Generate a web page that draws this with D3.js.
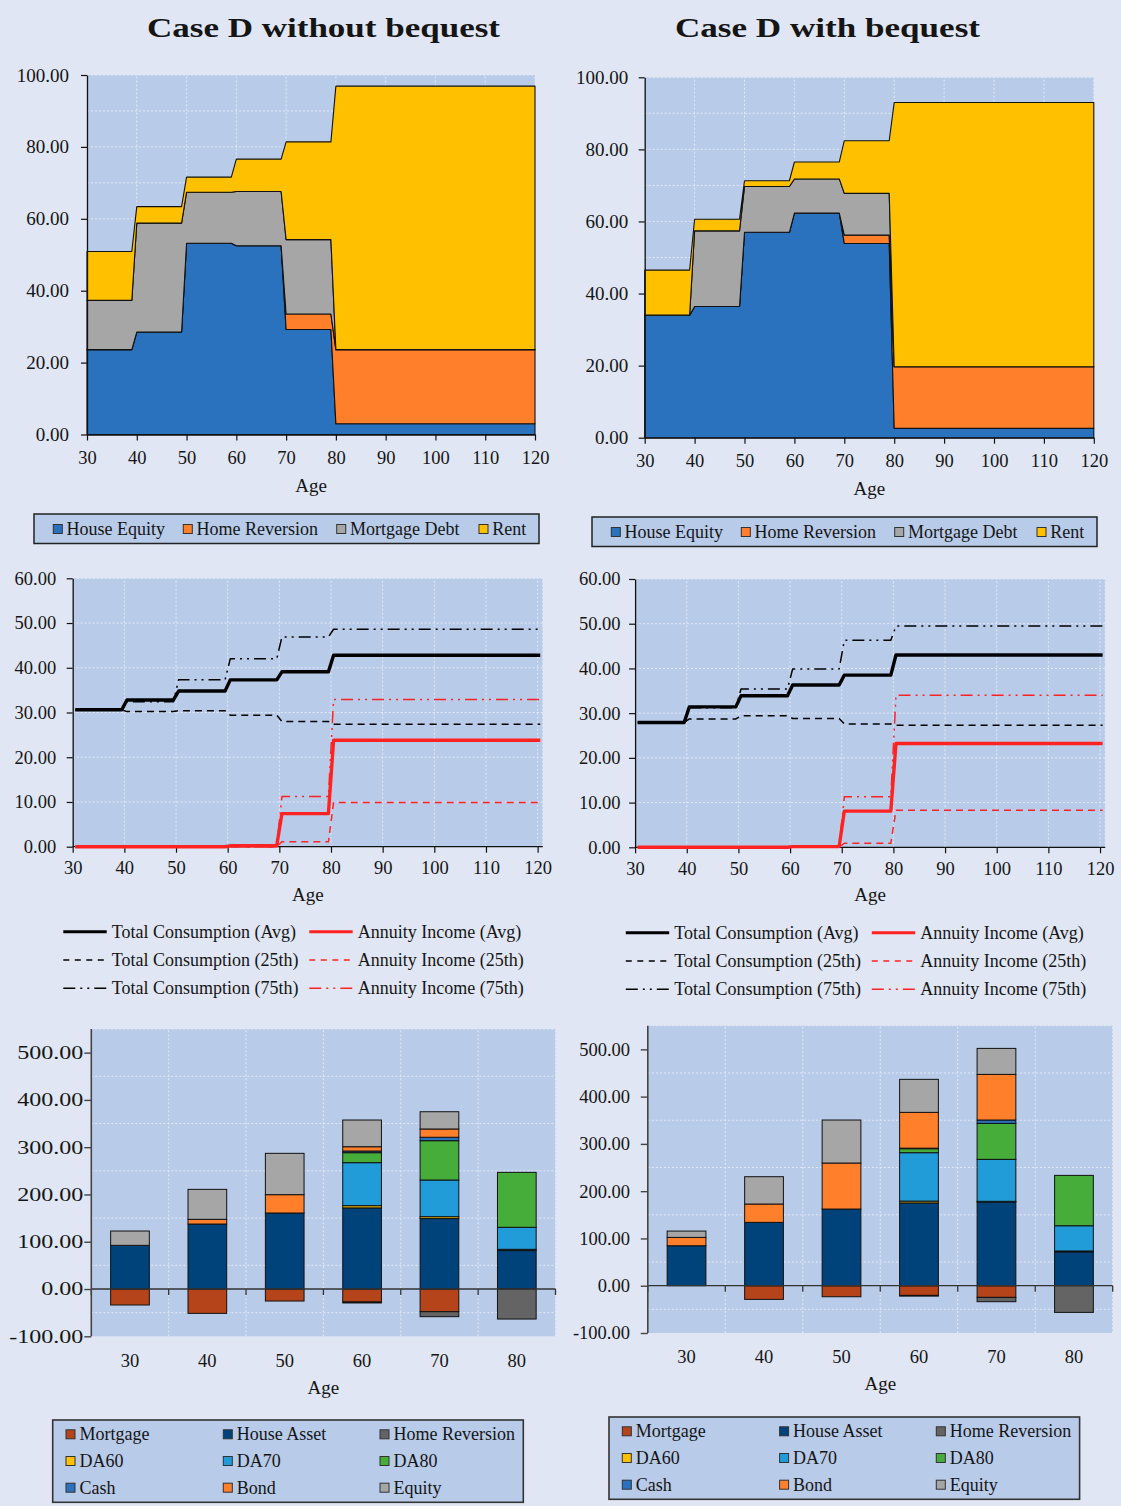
<!DOCTYPE html>
<html>
<head>
<meta charset="utf-8">
<script src="https://cdn.jsdelivr.net/npm/d3@7"></script>
<style>
  html, body { margin: 0; padding: 0; background: #E0E6F3; }
  svg { display: block; }
  text { font-family: "Liberation Serif", "Times New Roman", serif; fill: #151515; }
</style>
</head>
<body>
<svg id="fig" width="1121" height="1506"></svg>
<script>
// ---------------------------------------------------------------
// Data: each value holds for the decade starting at that age
// (the last one, 80, runs through to age 120).
// ---------------------------------------------------------------
const decadeStarts = [30, 40, 50, 60, 70, 80];
const lastAge = 120;

// Housing composition (% of wealth), without bequest
const houseEquityNB   = [23.6, 28.5, 53.2, 52.5, 29.2, 3.0];
const homeReversionNB = [0, 0, 0, 0, 4.3, 20.6];
const mortgageDebtNB  = [13.7, 30.3, 14.2, 15.1, 20.7, 0];
const rentNB          = [13.6, 4.6, 4.2, 9.0, 27.2, 73.3];

// Housing composition, with bequest
const houseEquityWB   = [34.0, 36.4, 57.0, 62.3, 53.9, 2.6];
const homeReversionWB = [0, 0, 0, 0, 2.3, 17.1];
const mortgageDebtWB  = [0, 21.0, 12.7, 9.5, 11.6, 0];
const rentWB          = [12.5, 3.2, 1.6, 4.7, 14.6, 73.3];

// Consumption and annuity income, without bequest
const consAvgNB = [30.6, 32.8, 34.8, 37.3, 39.1, 42.8];
const cons25NB  = [30.6, 30.2, 30.4, 29.4, 28.0, 27.4];
const cons75NB  = [30.6, 32.4, 37.3, 42.0, 46.9, 48.6];
const annAvgNB  = [0, 0, 0, 0.2, 7.4, 23.8];
const ann25NB   = [0, 0, 0, 0, 1.1, 9.9];
const ann75NB   = [0, 0, 0, 0, 11.2, 32.9];

// Consumption and annuity income, with bequest
const consAvgWB = [27.9, 31.4, 33.9, 36.3, 38.5, 43.0];
const cons25WB  = [27.9, 28.7, 29.4, 28.8, 27.6, 27.3];
const cons75WB  = [27.9, 31.2, 35.4, 39.9, 46.3, 49.5];
const annAvgWB  = [0, 0, 0, 0.15, 8.1, 23.2];
const ann25WB   = [0, 0, 0, 0, 0.9, 8.3];
const ann75WB   = [0, 0, 0, 0, 11.3, 34.0];

// Portfolio holdings by age
const barAges = ["30", "40", "50", "60", "70", "80"];
const mortgageNB      = [-33.8, -51.5, -25.4, -27.5, -48.0, 0];
const houseAssetNB    = [92.4, 137.5, 160.8, 171.6, 149.0, 81.4];
const homeRevAssetNB  = [0, 0, 0, -2.0, -10.5, -63.5];
const da60NB          = [0, 0, 0, 4.7, 4.0, 2.6];
const da70NB          = [0, 0, 0, 91.0, 77.6, 46.5];
const da80NB          = [0, 0, 0, 21.1, 83.2, 116.3];
const cashNB          = [0, 0, 0, 3.5, 7.2, 0];
const bondNB          = [0, 9.9, 38.8, 9.1, 17.5, 0];
const equityNB        = [30.3, 63.4, 87.4, 56.5, 36.5, 0];

const mortgageWB      = [0, -28.9, -23.3, -20.5, -24.7, 0];
const houseAssetWB    = [84.6, 134.0, 162.2, 175.2, 177.0, 71.5];
const homeRevAssetWB  = [0, 0, 0, -1.5, -9.1, -56.4];
const da60WB          = [0, 0, 0, 3.8, 1.5, 2.0];
const da70WB          = [0, 0, 0, 102.4, 88.8, 53.4];
const da80WB          = [0, 0, 0, 8.4, 76.1, 106.5];
const cashWB          = [0, 0, 0, 1.2, 7.1, 0];
const bondWB          = [17.6, 38.8, 97.3, 75.7, 96.5, 0];
const equityWB        = [13.4, 57.8, 91.0, 69.8, 55.0, 0];

// Tick values
const housingTicks = [0, 20, 40, 60, 80, 100];
const consumptionTicks = [0, 10, 20, 30, 40, 50, 60];
const ageTicks = [30, 40, 50, 60, 70, 80, 90, 100, 110, 120];
const holdingTicks = [-100, 0, 100, 200, 300, 400, 500];

// ---------------------------------------------------------------
// Styling
// ---------------------------------------------------------------
const SERIF = '"Liberation Serif","Times New Roman",serif';
const PAGE_BG = "#E0E6F3";
const PLOT_BG = "#B8CBE9";
const GRID = "#E4EAF6";
const RED = "#FF2222";

const housingKeys = ["houseEquity", "homeReversion", "mortgageDebt", "rent"];
const housingNames = ["House Equity", "Home Reversion", "Mortgage Debt", "Rent"];
const housingColors = ["#2A72BE", "#FF7F2A", "#A6A6A6", "#FFC000"];

const assetKeys = ["mortgage", "houseAsset", "homeReversion", "da60", "da70", "da80", "cash", "bond", "equity"];
const assetNames = ["Mortgage", "House Asset", "Home Reversion", "DA60", "DA70", "DA80", "Cash", "Bond", "Equity"];
const assetColors = ["#B5441A", "#00427A", "#646464", "#FFC000", "#229CD8", "#46AD3B", "#2A72BE", "#FF7F2A", "#A6A6A6"];

const lineStyles = {
  avg: { width: 3.4, dash: null },
  p25: { width: 1.5, dash: "7,5" },
  p75: { width: 1.5, dash: "12,5,2,5,2,5" }
};

const svg = d3.select("#fig");
svg.append("rect").attr("width", 1121).attr("height", 1506).attr("fill", PAGE_BG);

const fmt2 = d => d.toFixed(2);
const decadeIndex = a => Math.min(decadeStarts.length - 1, Math.floor((a - decadeStarts[0]) / 10));
const ages = d3.range(decadeStarts[0], lastAge + 1);

function styleAxis(sel, fontSize) {
  sel.attr("font-family", SERIF).attr("font-size", fontSize);
  sel.select(".domain").attr("stroke", "#111").attr("stroke-width", 1.3);
  sel.selectAll(".tick line").attr("stroke", "#111").attr("stroke-width", 1.2);
  sel.selectAll(".tick text")
    .attr("fill", "#151515")
    .attr("font-family", SERIF)
    .style("font-family", SERIF)
    .style("font-size", fontSize + "px");
}

function gridLines(g, xs, ys, x0, x1, y0, y1) {
  g.selectAll(null).data(ys).join("line")
    .attr("x1", x0).attr("x2", x1).attr("y1", d => d).attr("y2", d => d)
    .attr("stroke", GRID).attr("stroke-width", 1).attr("stroke-dasharray", "2,2");
  g.selectAll(null).data(xs).join("line")
    .attr("x1", d => d).attr("x2", d => d).attr("y1", y0).attr("y2", y1)
    .attr("stroke", GRID).attr("stroke-width", 1).attr("stroke-dasharray", "2,2");
}

function axisTitle(x, y, label) {
  svg.append("text").attr("x", x).attr("y", y).attr("text-anchor", "middle")
    .style("font-size", "19px").text(label);
}

// ---------------------------------------------------------------
// Stacked area charts: housing composition
// ---------------------------------------------------------------
function drawHousing(p, series) {
  const x = d3.scaleLinear().domain([decadeStarts[0], lastAge]).range([p.x0, p.x1]);
  const y = d3.scaleLinear().domain([0, 100]).range([p.y0, p.y1]);
  const g = svg.append("g");
  g.append("rect").attr("x", p.x0).attr("y", p.y1).attr("width", p.x1 - p.x0).attr("height", p.y0 - p.y1).attr("fill", PLOT_BG);
  gridLines(g, d3.range(40, 121, 10).map(x), d3.range(10, 101, 10).map(y), p.x0, p.x1, p.y0, p.y1);

  const rows = ages.map(a => {
    const r = { age: a };
    housingKeys.forEach((k, j) => { r[k] = series[j][decadeIndex(a)]; });
    return r;
  });
  const stacked = d3.stack().keys(housingKeys)(rows);
  const area = d3.area().x(d => x(d.data.age)).y0(d => y(d[0])).y1(d => y(d[1]));
  g.selectAll(null).data(stacked).join("path")
    .attr("d", area)
    .attr("fill", (d, i) => housingColors[i])
    .attr("stroke", "#111").attr("stroke-width", 1.1).attr("stroke-linejoin", "round");

  const ay = g.append("g").attr("transform", `translate(${p.x0},0)`)
    .call(d3.axisLeft(y).tickValues(housingTicks).tickFormat(fmt2).tickSize(6).tickSizeOuter(0).tickPadding(p.yPad));
  styleAxis(ay, 19);
  const ax = g.append("g").attr("transform", `translate(0,${p.y0})`)
    .call(d3.axisBottom(x).tickValues(ageTicks).tickFormat(d3.format("d")).tickSize(6).tickSizeOuter(0).tickPadding(10));
  styleAxis(ax, 18.5);
  axisTitle((p.x0 + p.x1) / 2, p.y0 + 57, "Age");

  // legend
  const L = p.legend;
  const lg = svg.append("g").attr("transform", `translate(${L.dx},${L.dy})`);
  lg.append("rect").attr("x", 34).attr("y", 514).attr("width", 505).attr("height", 29.5)
    .attr("fill", PLOT_BG).attr("stroke", "#222").attr("stroke-width", 1.5);
  const items = lg.selectAll(null).data(housingNames).join("g")
    .attr("transform", (d, i) => `translate(${L.xs[i]},529)`);
  items.append("rect").attr("x", 0).attr("y", -4.5).attr("width", 9).attr("height", 9)
    .attr("fill", (d, i) => housingColors[i]).attr("stroke", "#333").attr("stroke-width", 1);
  items.append("text").attr("x", 13.3).attr("y", 6).style("font-size", "18px").text(d => d);
}

// ---------------------------------------------------------------
// Line charts: consumption and annuity income
// ---------------------------------------------------------------
function drawConsumption(p, s) {
  const x = d3.scaleLinear().domain([decadeStarts[0], lastAge + 1]).range([p.x0, p.x1]);
  const y = d3.scaleLinear().domain([0, 60]).range([p.y0, p.y1]);
  const g = svg.append("g");
  g.append("rect").attr("x", p.x0).attr("y", p.y1).attr("width", p.x1 - p.x0).attr("height", p.y0 - p.y1).attr("fill", PLOT_BG);
  gridLines(g, d3.range(40, 121, 10).map(x).concat([p.x1]), d3.range(10, 61, 10).map(y), p.x0, p.x1, p.y0, p.y1);

  const line = d3.line().x(d => x(d.age + 0.5)).y(d => y(d.v));
  const seriesDefs = [
    { vals: s.cons25, color: "#000", style: "p25" },
    { vals: s.cons75, color: "#000", style: "p75" },
    { vals: s.consAvg, color: "#000", style: "avg" },
    { vals: s.ann25, color: RED, style: "p25" },
    { vals: s.ann75, color: RED, style: "p75" },
    { vals: s.annAvg, color: RED, style: "avg" }
  ];

  const ay = g.append("g").attr("transform", `translate(${p.x0},0)`)
    .call(d3.axisLeft(y).tickValues(consumptionTicks).tickFormat(fmt2).tickSize(6).tickSizeOuter(0).tickPadding(p.yPad));
  styleAxis(ay, 18.5);
  const ax = g.append("g").attr("transform", `translate(0,${p.y0})`)
    .call(d3.axisBottom(x).tickValues(ageTicks).tickFormat(d3.format("d")).tickSize(6).tickSizeOuter(0).tickPadding(8.5));
  styleAxis(ax, 18.5);
  ax.select(".domain").attr("d", `M${p.x0},0H${p.x1}`);

  seriesDefs.forEach(sd => {
    const pts = ages.map(a => ({ age: a, v: sd.vals[decadeIndex(a)] }));
    const st = lineStyles[sd.style];
    g.append("path").attr("d", line(pts)).attr("fill", "none")
      .attr("stroke", sd.color).attr("stroke-width", st.width)
      .attr("stroke-dasharray", st.dash).attr("stroke-linejoin", "round");
  });
  axisTitle((p.x0 + p.x1) / 2, p.y0 + 54, "Age");

  // legend
  const rows = [
    [["Total Consumption (Avg)", "#000", "avg"], ["Annuity Income (Avg)", RED, "avg"]],
    [["Total Consumption (25th)", "#000", "p25"], ["Annuity Income (25th)", RED, "p25"]],
    [["Total Consumption (75th)", "#000", "p75"], ["Annuity Income (75th)", RED, "p75"]]
  ];
  const rowY = [931.7, 960, 988.3];
  const colX = [63.3, 309.3];
  const lg = svg.append("g").attr("transform", `translate(${p.legend.dx},${p.legend.dy})`);
  rows.forEach((r, i) => r.forEach((it, j) => {
    const st = lineStyles[it[2]];
    lg.append("line").attr("x1", colX[j]).attr("x2", colX[j] + 43.4)
      .attr("y1", rowY[i]).attr("y2", rowY[i])
      .attr("stroke", it[1]).attr("stroke-width", it[2] === "avg" ? 3 : 1.6)
      .attr("stroke-dasharray", it[2] === "p25" ? "6,5.5" : st.dash);
    lg.append("text").attr("x", colX[j] + 48.4).attr("y", rowY[i] + 6)
      .style("font-size", "18px").text(it[0]);
  }));
}

// ---------------------------------------------------------------
// Stacked bar charts: portfolio holdings
// ---------------------------------------------------------------
function drawHoldings(p, series) {
  const x = d3.scaleBand().domain(barAges).range([p.x0, p.x1]).paddingInner(0.5).paddingOuter(0.25);
  const y = d3.scaleLinear().domain([-100, 550]).range([p.yBottom, p.yTop]);
  const g = svg.append("g");
  const step = x.step();
  const bounds = d3.range(barAges.length + 1).map(i => p.x0 + i * step);
  g.append("rect").attr("x", p.x0).attr("y", y(550)).attr("width", p.x1 - p.x0).attr("height", y(-100) - y(550)).attr("fill", PLOT_BG);
  gridLines(g, bounds.slice(1), [-50, 50, 150, 250, 350, 450, 550].map(y), p.x0, p.x1, y(-100), y(550));

  const rows = barAges.map((a, i) => {
    const r = { age: a };
    assetKeys.forEach((k, j) => { r[k] = series[j][i]; });
    return r;
  });
  const stacked = d3.stack().keys(assetKeys).offset(d3.stackOffsetDiverging)(rows);
  stacked.forEach((layer, j) => {
    g.selectAll(null).data(layer.filter(d => d[1] !== d[0])).join("rect")
      .attr("x", d => x(d.data.age))
      .attr("width", x.bandwidth())
      .attr("y", d => y(Math.max(d[0], d[1])))
      .attr("height", d => Math.abs(y(d[0]) - y(d[1])))
      .attr("fill", assetColors[j])
      .attr("stroke", "#111").attr("stroke-width", 1);
  });

  // zero line with category ticks
  g.append("line").attr("x1", p.x0).attr("x2", p.x1).attr("y1", y(0)).attr("y2", y(0))
    .attr("stroke", "#333").attr("stroke-width", 1.3);
  g.selectAll(null).data(bounds).join("line")
    .attr("x1", d => d).attr("x2", d => d).attr("y1", y(0)).attr("y2", y(0) + 6)
    .attr("stroke", "#333").attr("stroke-width", 1.3);

  const ay = g.append("g").attr("transform", `translate(${p.x0},0)`)
    .call(d3.axisLeft(y).tickValues(holdingTicks).tickFormat(fmt2).tickSize(7).tickSizeOuter(0).tickPadding(p.yPad));
  styleAxis(ay, 18.5);
  ay.select(".domain").attr("d", `M0,${y(550)}V${y(-100)}`).attr("stroke", "#444").attr("stroke-width", 1.6);
  ay.selectAll(".tick line").attr("stroke", "#444").attr("stroke-width", 1.4);
  if (p.stretch) {
    ay.selectAll(".tick text").each(function () {
      const w = this.getComputedTextLength();
      d3.select(this).attr("textLength", w * p.stretch).attr("lengthAdjust", "spacingAndGlyphs");
    });
  }

  g.selectAll(null).data(barAges).join("text")
    .attr("x", d => x(d) + x.bandwidth() / 2).attr("y", p.labelY)
    .attr("text-anchor", "middle").style("font-size", "18.5px").text(d => d);
  axisTitle((p.x0 + p.x1) / 2, p.labelY + 27, "Age");

  // legend
  const L = p.legend;
  const lg = svg.append("g").attr("transform", `translate(${L.dx},${L.dy})`);
  lg.append("rect").attr("x", 52.7).attr("y", 1420).attr("width", 470.6).attr("height", 82.3)
    .attr("fill", PLOT_BG).attr("stroke", "#333").attr("stroke-width", 1.6);
  const colX = [66, 223.3, 380];
  const rowY = [1434.3, 1461, 1487.7];
  const items = lg.selectAll(null).data(assetNames).join("g")
    .attr("transform", (d, i) => `translate(${colX[i % 3]},${rowY[Math.floor(i / 3)]})`);
  items.append("rect").attr("x", 0).attr("y", -4.5).attr("width", 9).attr("height", 9)
    .attr("fill", (d, i) => assetColors[i]).attr("stroke", "#333").attr("stroke-width", 1);
  items.append("text").attr("x", 13.5).attr("y", 6).style("font-size", "18px").text(d => d);
}

// ---------------------------------------------------------------
// Titles
// ---------------------------------------------------------------
svg.append("text").attr("x", 323.5).attr("y", 37).attr("text-anchor", "middle")
  .style("font-size", "28px").style("font-weight", "bold")
  .attr("textLength", 353).attr("lengthAdjust", "spacingAndGlyphs")
  .text("Case D without bequest");
svg.append("text").attr("x", 827.5).attr("y", 37).attr("text-anchor", "middle")
  .style("font-size", "28px").style("font-weight", "bold")
  .attr("textLength", 305).attr("lengthAdjust", "spacingAndGlyphs")
  .text("Case D with bequest");

// ---------------------------------------------------------------
// Panels
// ---------------------------------------------------------------
drawHousing({ x0: 87, x1: 535, y0: 434.5, y1: 75, yPad: 12,
  legend: { dx: 0, dy: 0, xs: [53.3, 183.3, 336.7, 479] } },
  [houseEquityNB, homeReversionNB, mortgageDebtNB, rentNB]);
drawHousing({ x0: 644.7, x1: 1093.8, y0: 437.7, y1: 77.3, yPad: 10.5,
  legend: { dx: 558, dy: 3, xs: [53.3, 183.3, 336.7, 479] } },
  [houseEquityWB, homeReversionWB, mortgageDebtWB, rentWB]);

drawConsumption({ x0: 72.7, x1: 542.8, y0: 846.7, y1: 578.3, yPad: 10.5, legend: { dx: 0, dy: 0 } },
  { consAvg: consAvgNB, cons25: cons25NB, cons75: cons75NB, annAvg: annAvgNB, ann25: ann25NB, ann75: ann75NB });
drawConsumption({ x0: 635.1, x1: 1105.2, y0: 847.3, y1: 579, yPad: 8.5, legend: { dx: 562.5, dy: 1 } },
  { consAvg: consAvgWB, cons25: cons25WB, cons75: cons75WB, annAvg: annAvgWB, ann25: ann25WB, ann75: ann75WB });

drawHoldings({ x0: 91.3, x1: 555.5, yBottom: 1336.3, yTop: 1029, yPad: 1, stretch: 1.3, labelY: 1366.5,
  legend: { dx: 0, dy: 0 } },
  [mortgageNB, houseAssetNB, homeRevAssetNB, da60NB, da70NB, da80NB, cashNB, bondNB, equityNB]);
drawHoldings({ x0: 647.8, x1: 1112.7, yBottom: 1333, yTop: 1025.7, yPad: 10.8, stretch: 0, labelY: 1363,
  legend: { dx: 556.3, dy: -3 } },
  [mortgageWB, houseAssetWB, homeRevAssetWB, da60WB, da70WB, da80WB, cashWB, bondWB, equityWB]);
</script>
</body>
</html>
